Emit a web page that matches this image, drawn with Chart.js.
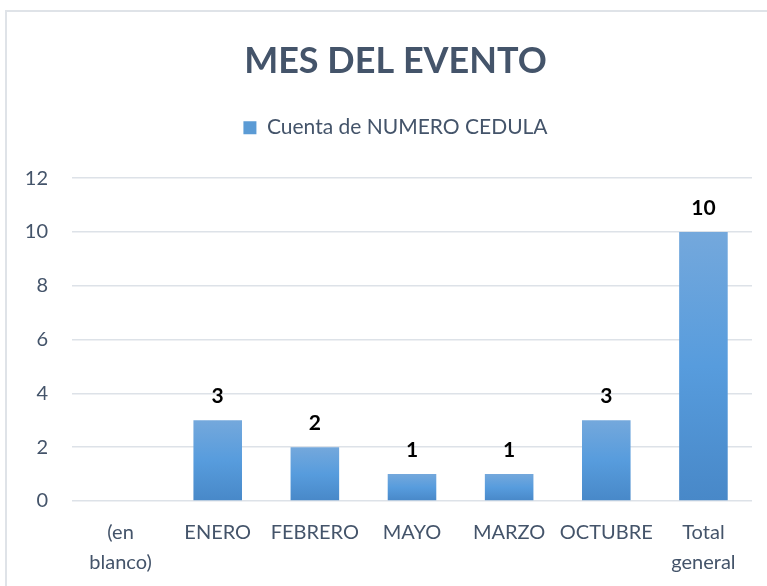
<!DOCTYPE html>
<html>
<head>
<meta charset="utf-8">
<script src="https://cdn.jsdelivr.net/npm/chart.js@4"></script>
<style>
  body { margin: 0; background: #fff; overflow: hidden; }
  #frame {
    position: absolute; left: 5px; top: 10px;
    width: 800px; height: 600px;
    border: 2px solid #dfe3e8;
  }
  #wrap { position: absolute; left: 0; top: 0; width: 767px; height: 595px; }
</style>
</head>
<body>
<div id="frame"></div>
<div id="wrap"><canvas id="chart"></canvas></div>
<script>
// data
const categories = [["(en", "blanco)"], "ENERO", "FEBRERO", "MAYO", "MARZO", "OCTUBRE", ["Total", "general"]];
const counts = [0, 3, 2, 1, 1, 3, 10];
const seriesName = "Cuenta de NUMERO CEDULA";
const yTicks = [0, 2, 4, 6, 8, 10, 12];

const textColor = "#44546a";
const fontFamily = "Lato, 'Open Sans', sans-serif";

function barFill(ctx) {
    const chart = ctx.chart;
    const y = chart.scales && chart.scales.y;
    if (!y || ctx.raw == null) return "#5b9bd5";
    const top = y.getPixelForValue(ctx.raw);
    const base = y.getPixelForValue(0);
    if (!isFinite(top) || !isFinite(base) || base - top < 1) return "#5b9bd5";
    const g = chart.ctx.createLinearGradient(0, top, 0, base);
    g.addColorStop(0, "#74a8dc");
    g.addColorStop(0.5, "#579cdd");
    g.addColorStop(1, "#4888c8");
    return g;
}

// extra room between the legend and the plot
const legendGap = {
    id: "legendGap",
    beforeInit(chart) {
        const fit = chart.legend.fit;
        chart.legend.fit = function () {
            fit.call(this);
            this.height += 30;
        };
    }
};

// y tick labels and the bold numbers above each bar
const valueLabels = {
    id: "valueLabels",
    afterDatasetsDraw(chart) {
        const c = chart.ctx;
        const y = chart.scales.y;
        c.save();
        c.font = "20px " + fontFamily;
        c.fillStyle = textColor;
        c.textAlign = "right";
        c.textBaseline = "middle";
        y.ticks.forEach(t => {
            c.fillText(String(t.value), chart.chartArea.left - 24, y.getPixelForValue(t.value));
        });

        const meta = chart.getDatasetMeta(0);
        c.font = "bold 21px " + fontFamily;
        c.fillStyle = "#000";
        c.textAlign = "center";
        meta.data.forEach((bar, i) => {
            const v = chart.data.datasets[0].data[i];
            if (!v) return;
            c.fillText(String(v), bar.x, bar.y - 24);
        });
        c.restore();
    }
};

new Chart(document.getElementById("chart"), {
    type: "bar",
    data: {
        labels: categories,
        datasets: [{
            label: seriesName,
            data: counts,
            backgroundColor: barFill,
            borderWidth: 0,
            categoryPercentage: 1,
            barPercentage: 0.5
        }]
    },
    options: {
        responsive: true,
        maintainAspectRatio: false,
        animation: false,
        layout: { padding: { left: 39, right: 15, top: 22, bottom: 0 } },
        plugins: {
            title: {
                display: true,
                text: "MES DEL EVENTO",
                color: textColor,
                font: { family: fontFamily, size: 36, weight: "bold" },
                padding: { top: 18, bottom: 24 }
            },
            legend: {
                display: true,
                position: "top",
                labels: {
                    color: textColor,
                    font: { family: fontFamily, size: 21 },
                    boxWidth: 13,
                    boxHeight: 13,
                    padding: 10
                }
            },
            tooltip: { enabled: false }
        },
        scales: {
            x: {
                grid: { display: false, drawTicks: false },
                border: { display: false },
                ticks: {
                    color: textColor,
                    font: { family: fontFamily, size: 20, lineHeight: 1.5 },
                    padding: 17,
                    maxRotation: 0,
                    autoSkip: false
                }
            },
            y: {
                min: 0,
                max: 12,
                afterFit(scale) { scale.width = 33; },
                afterBuildTicks(scale) { scale.ticks = yTicks.map(v => ({ value: v })); },
                grid: { color: "#dde2e8", lineWidth: 1.5, drawTicks: false },
                border: { display: false },
                ticks: { display: false }
            }
        }
    },
    plugins: [legendGap, valueLabels]
});
</script>
</body>
</html>
